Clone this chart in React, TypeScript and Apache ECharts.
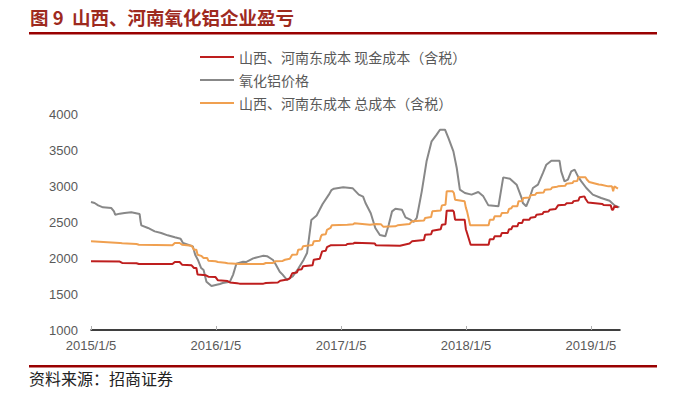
import React, { useEffect, useRef } from "react";
import * as echarts from "echarts";

// x: weeks since 2015/1/5 ; y: 元/吨
const redWeeks = [0, 12, 13, 19, 20, 34, 35, 37, 38, 42, 43, 44, 44.5, 48, 49, 52, 53, 57, 58, 61, 62, 72, 73, 78, 79, 82, 83, 84, 86, 86.5, 88, 88.5, 92.5, 93, 95.5, 96, 96.5, 98, 98.5, 100, 106.5, 107, 109.5, 110, 116.5, 118.5, 119, 129, 133, 134, 139, 139.5, 142, 142.5, 146, 146.5, 148, 148.5, 151, 151.5, 152, 156, 156.5, 157, 158.5, 166, 166.5, 168, 168.5, 171, 171.5, 174, 174.5, 175.5, 176, 178, 178.5, 180, 180.5, 183, 183.5, 185.5, 186, 188.5, 189, 191, 191.5, 194, 195, 198, 198.5, 201, 201.5, 203.5, 204, 206, 206.5, 207.5, 213.5, 214, 217, 217.5, 218, 218.5, 220];
const redValues = [1954, 1950, 1931, 1928, 1917, 1917, 1944, 1944, 1907, 1898, 1861, 1861, 1770, 1760, 1741, 1735, 1690, 1680, 1660, 1648, 1644, 1644, 1653, 1660, 1685, 1700, 1717, 1787, 1800, 1838, 1845, 1884, 1900, 1977, 1990, 2042, 2092, 2100, 2150, 2176, 2180, 2194, 2200, 2213, 2204, 2200, 2176, 2171, 2200, 2231, 2250, 2324, 2330, 2380, 2400, 2463, 2470, 2657, 2660, 2639, 2532, 2532, 2400, 2347, 2185, 2185, 2260, 2260, 2301, 2301, 2347, 2347, 2400, 2400, 2440, 2440, 2486, 2486, 2532, 2532, 2560, 2570, 2602, 2610, 2640, 2645, 2671, 2680, 2731, 2740, 2760, 2765, 2790, 2800, 2843, 2856, 2820, 2770, 2750, 2735, 2731, 2671, 2671, 2718, 2704];

const greyWeeks = [0, 1.5, 3, 5, 8.5, 9.6, 10.1, 12, 14, 16.8, 20.3, 20.7, 21, 23.8, 26.6, 29.3, 32, 35, 37.4, 38.4, 40.5, 42.5, 43.5, 44.6, 46, 47, 48.2, 50.3, 53.8, 55, 58, 59.3, 60.7, 63.5, 64.7, 67.7, 70.5, 72, 73.5, 76, 77.2, 78.8, 80, 81.8, 84.2, 86.5, 88.8, 90.2, 92, 94.2, 96.7, 99.3, 100.4, 101.4, 105.3, 109.2, 111.8, 113.6, 114.6, 116.8, 118.7, 120.6, 122.9, 124.3, 125.7, 127.1, 129.8, 131.3, 133.3, 134.7, 136, 138.1, 140.1, 142.2, 144.3, 145.7, 147.8, 149.2, 151.3, 152.7, 154, 156.1, 158.9, 161.7, 163.8, 165.9, 170.1, 172.1, 174.9, 177.7, 179.8, 180.3, 181.7, 183.1, 184.5, 186.6, 188.7, 190.1, 192.2, 195.6, 196.3, 197.7, 199.1, 200.5, 201.9, 203.3, 204.7, 206.8, 209.5, 213, 216.5, 218.6, 220.6];
const greyValues = [2778, 2764, 2731, 2704, 2694, 2648, 2601, 2616, 2625, 2634, 2611, 2509, 2454, 2417, 2370, 2347, 2315, 2287, 2268, 2208, 2185, 2162, 2046, 1976, 1861, 1833, 1671, 1611, 1639, 1653, 1671, 1766, 1920, 1949, 1944, 1995, 2019, 2032, 2025, 1972, 1907, 1810, 1769, 1697, 1743, 1850, 1977, 2069, 2528, 2590, 2750, 2880, 2944, 2963, 2984, 2970, 2880, 2852, 2764, 2622, 2417, 2320, 2301, 2463, 2648, 2685, 2671, 2565, 2532, 2500, 2556, 2926, 3343, 3620, 3713, 3782, 3782, 3667, 3481, 3250, 2949, 2903, 2880, 2917, 2856, 2731, 2718, 3120, 3102, 3018, 2833, 2764, 2718, 2833, 2972, 3018, 3181, 3296, 3352, 3352, 3204, 3065, 3088, 3204, 3227, 3134, 3065, 2972, 2880, 2833, 2796, 2731, 2704];

const orangeWeeks = [0, 12, 13, 19, 20, 34, 35, 37, 38, 42, 43, 44, 44.5, 46, 47, 48.5, 49, 52, 53, 56, 57, 62, 72, 73, 76, 77, 80, 81, 83, 84, 86, 86.5, 88, 88.5, 92.5, 93, 95.5, 96, 96.5, 98, 98.5, 100, 100.5, 107, 109.5, 110, 116.5, 119, 121, 122, 127, 128, 133, 134, 139, 139.5, 142, 142.5, 146, 146.5, 148, 148.5, 151, 151.5, 152, 156, 156.5, 157, 158.3, 166, 166.5, 168, 168.5, 171, 171.5, 174, 174.5, 175.5, 176, 178, 178.5, 180, 180.5, 183, 183.5, 185.5, 186, 189, 189.5, 192, 192.5, 194.5, 195, 198, 198.5, 201, 201.5, 203, 203.5, 206.5, 207, 208, 212, 213, 216, 217.5, 218, 218.5, 220];
const orangeValues = [2231, 2210, 2204, 2195, 2185, 2176, 2208, 2208, 2185, 2171, 2115, 2115, 2046, 2030, 2000, 2000, 1963, 1955, 1944, 1935, 1926, 1917, 1917, 1931, 1931, 1954, 1960, 1976, 1990, 2046, 2050, 2115, 2120, 2162, 2180, 2231, 2240, 2300, 2324, 2330, 2390, 2417, 2454, 2463, 2470, 2481, 2463, 2472, 2470, 2435, 2440, 2454, 2472, 2509, 2520, 2556, 2570, 2648, 2660, 2731, 2740, 2926, 2926, 2903, 2810, 2787, 2700, 2648, 2454, 2454, 2530, 2530, 2579, 2580, 2625, 2630, 2680, 2690, 2718, 2720, 2787, 2790, 2833, 2840, 2870, 2880, 2903, 2910, 2949, 2955, 2980, 2990, 2995, 3005, 3032, 3040, 3065, 3070, 3120, 3120, 3090, 3055, 3020, 3018, 2995, 2995, 2926, 2995, 2963];

const seriesNames = ["山西、河南东成本 现金成本（含税）", "氧化铝价格", "山西、河南东成本 总成本（含税）"];
const tickLabels = ["2015/1/5", "2016/1/5", "2017/1/5", "2018/1/5", "2019/1/5"];
const yTicks = [1000, 1500, 2000, 2500, 3000, 3500, 4000];

const DAY = 86400000;
const toDays = (s: string) => {
  const [y, m, d] = s.split("/").map(Number);
  return Math.round((Date.UTC(y, m - 1, d) - Date.UTC(2015, 0, 5)) / DAY);
};
const tickDays = tickLabels.map(toDays);
const pairs = (weeks: number[], vals: number[]) => weeks.map((w, i) => [w * 7, vals[i]]);

export default function App() {
  const ref = useRef<HTMLDivElement>(null);
  useEffect(() => {
    if (!ref.current) return;
    const chart = echarts.init(ref.current, undefined, { renderer: "svg" });
    const axisFont = { color: "#595959", fontSize: 13, fontFamily: "Liberation Sans, Arial, sans-serif" };
    chart.setOption({
      animation: false,
      backgroundColor: "#ffffff",
      grid: { left: 91, right: 68, top: 114, bottom: 66, containLabel: false },
      legend: {
        orient: "vertical",
        left: 195,
        top: 45,
        itemWidth: 34,
        itemHeight: 2,
        itemGap: 9,
        icon: "rect",
        textStyle: { color: "#595959", fontSize: 14, fontFamily: "Noto Sans CJK SC" },
        data: seriesNames,
      },
      xAxis: {
        type: "value",
        min: 0,
        max: 1546,
        splitLine: { show: false },
        axisLine: { show: true, onZero: false, lineStyle: { color: "#000000", width: 1.5 } },
        axisTick: { show: true, inside: true, length: 4, lineStyle: { color: "#b0b0b0" }, customValues: tickDays },
        axisLabel: {
          ...axisFont,
          margin: 9,
          customValues: tickDays,
          formatter: (v: number) => {
            const i = tickDays.indexOf(Math.round(v));
            return i >= 0 ? tickLabels[i] : "";
          },
        },
      },
      yAxis: {
        type: "value",
        min: 1000,
        max: 4000,
        interval: 500,
        splitLine: { show: false },
        axisLine: { show: false },
        axisTick: { show: false },
        axisLabel: { ...axisFont, margin: 13, customValues: yTicks, formatter: (v: number) => String(v) },
      },
      series: [
        { name: seriesNames[0], type: "line", symbol: "none", data: pairs(redWeeks, redValues), lineStyle: { color: "#BE1E1E", width: 2 }, itemStyle: { color: "#BE1E1E" }, z: 3 },
        { name: seriesNames[1], type: "line", symbol: "none", data: pairs(greyWeeks, greyValues), lineStyle: { color: "#888888", width: 2 }, itemStyle: { color: "#888888" }, z: 1 },
        { name: seriesNames[2], type: "line", symbol: "none", data: pairs(orangeWeeks, orangeValues), lineStyle: { color: "#F0A050", width: 2 }, itemStyle: { color: "#F0A050" }, z: 2 },
      ],
      graphic: [
        { type: "text", left: 30, top: 8, style: { text: "图 9  山西、河南氧化铝企业盈亏", fill: "#9E2A1E", fontSize: 18.5, fontWeight: "bold", fontFamily: "Noto Sans CJK SC" } },
        { type: "rect", shape: { x: 29, y: 32, width: 628, height: 2.5 }, style: { fill: "#990000" } },
        { type: "rect", shape: { x: 29, y: 365, width: 628, height: 2.5 }, style: { fill: "#990000" } },
        { type: "text", left: 29, top: 370, style: { text: "资料来源：招商证券", fill: "#222222", fontSize: 16, fontFamily: "Noto Sans CJK SC" } },
      ],
    });
    return () => chart.dispose();
  }, []);
  return <div ref={ref} style={{ position: "fixed", left: 0, top: 0, width: 688, height: 396, background: "#fff" }} />;
}
